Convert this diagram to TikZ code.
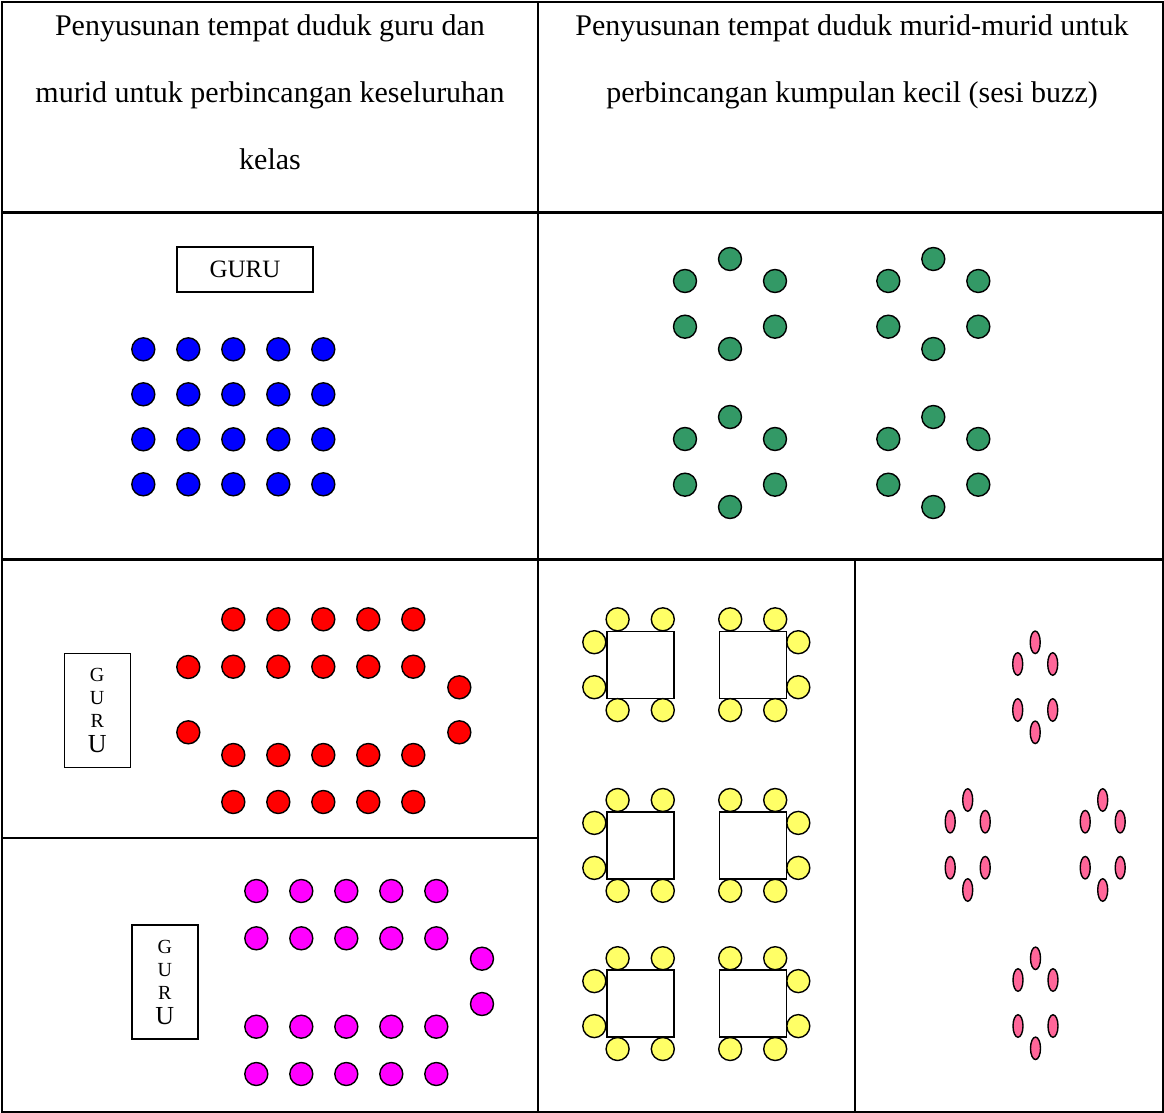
\documentclass[tikz,border=0pt]{standalone}
\usepackage{fontspec}
\setmainfont{Liberation Serif}
\usetikzlibrary{shapes.geometric}
\definecolor{sgreen}{HTML}{339966}
\definecolor{syellow}{HTML}{FFFF66}
\definecolor{spink}{HTML}{FF6699}
\definecolor{smag}{RGB}{255,0,255}
\definecolor{sblue}{RGB}{0,0,255}
\definecolor{sred}{RGB}{255,0,0}
\tikzset{seat/.style={circle,draw=black,line width=1.4pt,minimum size=23pt,inner sep=0pt},
 bl/.style={seat,fill=sblue},gr/.style={seat,fill=sgreen},rd/.style={seat,fill=sred},
 mg/.style={seat,fill=smag},ye/.style={seat,fill=syellow},
 pk/.style={ellipse,draw=black,line width=1.4pt,fill=spink,minimum width=10pt,minimum height=22.5pt,inner sep=0pt},
 tb/.style={draw=black,line width=1.4pt,fill=white,minimum size=67pt,inner sep=0pt},
 gb/.style={draw=black,line width=1.4pt,inner sep=0pt},
 ln/.style={line width=2.2pt},hd/.style={align=center,inner sep=0pt,anchor=north,font=\fontsize{30}{67}\selectfont}}
\begin{document}
\begin{tikzpicture}[x=1pt,y=-1pt]
\useasboundingbox (0,0) rectangle (1164,1113);
\draw[ln](2,2)rectangle(1163,1112);
\draw[ln](538,2)--(538,1112);\draw[ln](2,212.5)--(1163,212.5);\draw[ln](2,559.5)--(1163,559.5);
\draw[ln](2,838)--(538,838);\draw[ln](855,559.5)--(855,1112);
\node[hd] (hl) at (270,14){Penyusunan tempat duduk guru dan\\murid untuk perbincangan keseluruhan\\kelas};
\node[hd] (hr) at (852,14){Penyusunan tempat duduk murid-murid untuk\\perbincangan kumpulan kecil (sesi buzz)};
\node[gb,minimum width=136pt,minimum height=45pt,font=\fontsize{25}{25}\selectfont] (g1) at (245,269.5){GURU};
\foreach \r in {0,...,3}{\foreach \c in {0,...,4}{\node[bl] (b\r\c) at (143.3+45*\c,349.3+45*\r){};}}
\foreach \gx/\gy [count=\k] in {730/304,933.3/304,730/462,933.3/462}{
 \foreach \dx/\dy [count=\j] in {0/-45,-45/-23,45/-23,-45/22.7,45/22.7,0/45}{\node[gr] (gr\k-\j) at (\gx+\dx,\gy+\dy){};}}
\node[gb,minimum width=66pt,minimum height=114pt,align=center,font=\fontsize{20}{23}\selectfont] (g2) at (97.2,710.3){G\\U\\R\\[2pt]{\fontsize{26}{25}\selectfont U}};
\foreach \y [count=\r] in {619.3,666.7,755,802}{\foreach \c in {0,...,4}{\node[rd] (r\r\c) at (233.3+45*\c,\y){};}}
\node[rd] (rl1) at (188.3,667){};\node[rd] (rl2) at (188.3,732.3){};
\node[rd] (rr1) at (459.3,687.3){};\node[rd] (rr2) at (459.3,732.3){};
\node[gb,minimum width=66pt,minimum height=114pt,align=center,font=\fontsize{20}{23}\selectfont] (g3) at (164.8,982){G\\U\\R\\[2pt]{\fontsize{26}{25}\selectfont U}};
\foreach \y [count=\r] in {891,938.3,1026.7,1074}{\foreach \c in {0,...,4}{\node[mg] (m\r\c) at (256.3+45*\c,\y){};}}
\node[mg] (mr1) at (482,958.7){};\node[mg] (mr2) at (482,1004){};
\foreach \ty [count=\k] in {664.7,845.4,1003.6}{
 \node[tb] (tl\k) at (640.3,\ty){};\node[tb] (tr\k) at (752.7,\ty){};
 \foreach \dx/\dy [count=\j] in {-22.7/-45.4,22.5/-45.4,-46/-22.5,-46/22.5,-22.7/45.4,22.5/45.4}{\node[ye] (yl\k-\j) at (640.3+\dx,\ty+\dy){};}
 \foreach \dx/\dy [count=\j] in {-22.5/-45.4,22.5/-45.4,45.6/-22.5,45.6/22.5,-22.5/45.4,22.5/45.4}{\node[ye] (yr\k-\j) at (752.7+\dx,\ty+\dy){};}}
\foreach \gx/\gy [count=\k] in {1035.2/687.3,967.7/845,1102.7/845,1035.5/1003.3}{
 \foreach \dx/\dy [count=\j] in {0/-45,-17.5/-23.3,17.5/-23.3,-17.5/22.7,17.5/22.7,0/45}{\node[pk] (p\k-\j) at (\gx+\dx,\gy+\dy){};}}
\end{tikzpicture}
\end{document}
